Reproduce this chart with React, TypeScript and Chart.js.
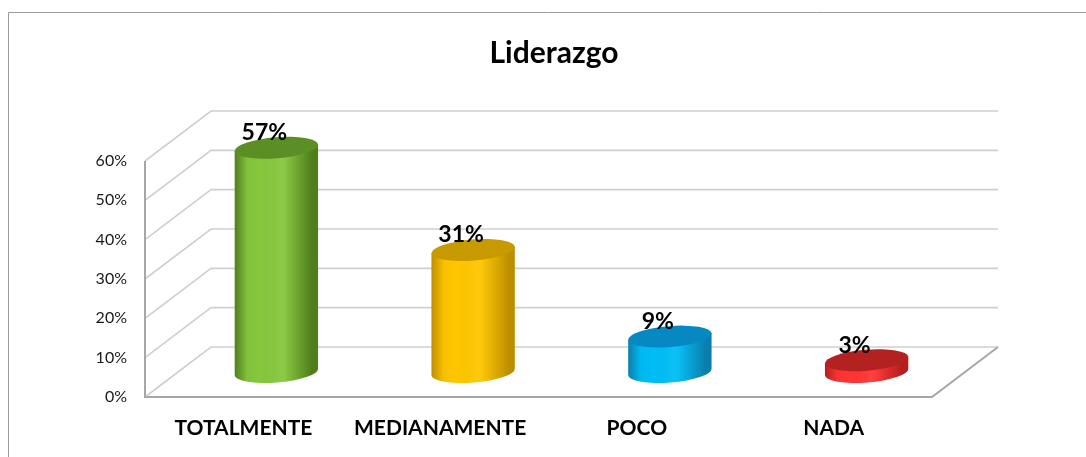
import React, { useEffect, useRef } from "react";
import { Chart, registerables } from "chart.js";

Chart.register(...registerables);

const categories = ["TOTALMENTE", "MEDIANAMENTE", "POCO", "NADA"];
const values = [0.57, 0.31, 0.09, 0.03];
const valueLabels = ["57%", "31%", "9%", "3%"];
const yMin = 0;
const yMax = 0.6;
const yStep = 0.1;
const titleText = "Liderazgo";

const topColors = ["#5b8f26", "#c79a00", "#0689c2", "#b32121"];
const edgeColors = ["#55861f", "#c99800", "#0c86b8", "#c02020"];
const lightColors = ["#86c73d", "#ffc600", "#00bdf5", "#ff3434"];

const DX = 66;
const DY = -50;

const FONT = "Lato, Carlito, 'Open Sans', sans-serif";

const threeD = {
  id: "threeD",
  beforeDraw(chart: any) {
    const ctx = chart.ctx;
    const area = chart.chartArea;
    const ys = chart.scales.y;
    ctx.save();
    // outer frame
    ctx.strokeStyle = "#9c9c9c";
    ctx.lineWidth = 1;
    ctx.beginPath();
    ctx.moveTo(8.5, chart.height);
    ctx.lineTo(8.5, 12.5);
    ctx.lineTo(chart.width, 12.5);
    ctx.stroke();

    // walls gridlines
    ctx.strokeStyle = "#cfcfcf";
    ctx.lineWidth = 1.6;
    ys.ticks.forEach((t: any) => {
      const y = ys.getPixelForValue(t.value);
      ctx.beginPath();
      ctx.moveTo(area.left, y);
      ctx.lineTo(area.left + DX, y + DY);
      ctx.lineTo(area.right + DX, y + DY);
      ctx.stroke();
    });
    // front edges and floor right edge
    const by = ys.getPixelForValue(yMin);
    const ty = ys.getPixelForValue(yMax);
    ctx.strokeStyle = "#a6a6a6";
    ctx.lineWidth = 2;
    ctx.beginPath();
    ctx.moveTo(area.left, ty);
    ctx.lineTo(area.left, by);
    ctx.lineTo(area.right, by);
    ctx.lineTo(area.right + DX, by + DY);
    ctx.stroke();
    ctx.restore();
  },
  afterDatasetsDraw(chart: any) {
    const ctx = chart.ctx;
    const meta = chart.getDatasetMeta(0);
    const rot = -0.08;
    const ry = 10.5;
    ctx.save();
    meta.data.forEach((bar: any, i: number) => {
      const rx = bar.width / 2;
      const cx = bar.x + DX / 2;
      const topY = bar.y + DY / 2;
      const baseY = bar.base + DY / 2;
      const c = Math.cos(rot);
      const s = Math.sin(rot);
      const g = ctx.createLinearGradient(cx - rx, 0, cx + rx, 0);
      g.addColorStop(0, edgeColors[i]);
      g.addColorStop(0.15, lightColors[i]);
      g.addColorStop(0.6, lightColors[i]);
      g.addColorStop(0.92, edgeColors[i]);
      g.addColorStop(1, edgeColors[i]);
      // body
      ctx.beginPath();
      ctx.moveTo(cx - rx * c, topY - rx * s);
      ctx.lineTo(cx - rx * c, baseY - rx * s);
      ctx.ellipse(cx, baseY, rx, ry, rot, Math.PI, 0, true);
      ctx.lineTo(cx + rx * c, topY + rx * s);
      ctx.closePath();
      ctx.fillStyle = g;
      ctx.fill();
      const g2 = ctx.createLinearGradient(cx - rx, 0, cx + rx, 0);
      g2.addColorStop(0, "rgba(0,0,0,0.06)");
      g2.addColorStop(0.3, "rgba(0,0,0,0.0)");
      g2.addColorStop(0.55, "rgba(255,255,255,0.05)");
      g2.addColorStop(0.85, "rgba(0,0,0,0.03)");
      g2.addColorStop(1, "rgba(0,0,0,0.08)");
      ctx.fillStyle = g2;
      ctx.fill();
      // top
      ctx.beginPath();
      ctx.ellipse(cx, topY, rx, ry, rot, 0, Math.PI * 2);
      ctx.fillStyle = topColors[i];
      ctx.fill();
      // label
      ctx.fillStyle = "#000";
      ctx.font = `bold 23px ${FONT}`;
      ctx.textAlign = "center";
      ctx.textBaseline = "middle";
      ctx.fillText(valueLabels[i], cx - 12, topY - 15);
    });
    ctx.restore();
  },
};

export default function App() {
  const ref = useRef<HTMLCanvasElement | null>(null);
  useEffect(() => {
    if (!ref.current) return;
    const chart = new Chart(ref.current, {
      type: "bar",
      data: {
        labels: categories,
        datasets: [
          {
            data: values,
            backgroundColor: "rgba(0,0,0,0)",
            borderWidth: 0,
            barPercentage: 0.425,
            categoryPercentage: 1,
          },
        ],
      },
      options: {
        responsive: true,
        maintainAspectRatio: false,
        animation: false,
        layout: { padding: { left: 22, right: 0, top: 0, bottom: 0 } },
        plugins: {
          legend: { display: false },
          tooltip: { enabled: false },
          title: {
            display: true,
            text: titleText,
            color: "#000",
            font: { family: FONT, size: 30, weight: "bold", lineHeight: 1.2 },
            padding: { top: 35, bottom: 90 },
          },
        },
        scales: {
          x: {
            grid: { display: false, drawTicks: false },
            border: { display: false },
            ticks: {
              color: "#000",
              font: { family: FONT, size: 21, weight: "bold" },
              padding: 19,
              maxRotation: 0,
              autoSkip: false,
            },
            afterFit: (s: any) => {
              s.height = 60;
            },
          },
          y: {
            min: yMin,
            max: yMax,
            grid: { display: false, drawTicks: false },
            border: { display: false },
            ticks: {
              stepSize: yStep,
              color: "#1a1a1a",
              font: { family: FONT, size: 16 },
              padding: 18,
              callback: (v: any) => Math.round(Number(v) * 100) + "%",
            },
            afterFit: (s: any) => {
              s.width = 123;
            },
          },
          yRight: {
            position: "right",
            display: true,
            grid: { display: false, drawTicks: false },
            border: { display: false },
            ticks: { display: false },
            afterFit: (s: any) => {
              s.width = 154;
            },
          },
        },
      },
      plugins: [threeD],
    });
    return () => chart.destroy();
  }, []);
  return (
    <div style={{ position: "fixed", left: 0, top: 0, width: 1086, height: 457, background: "#fff" }}>
      <canvas ref={ref} />
    </div>
  );
}
